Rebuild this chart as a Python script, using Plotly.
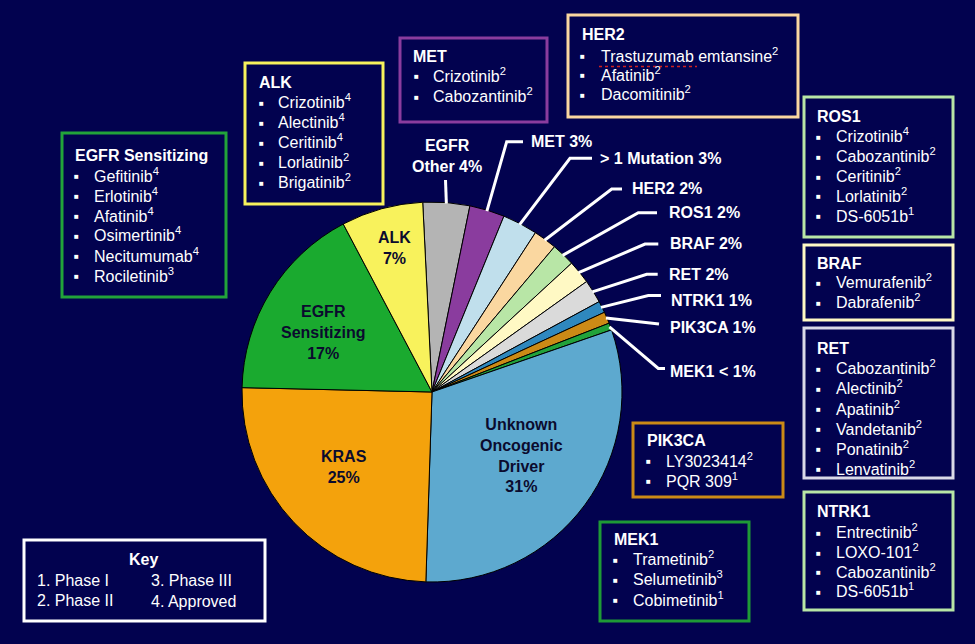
import math
import plotly.graph_objects as go

W, H = 975, 644
BG = "#02024F"
FONT = "Liberation Sans, Arial, sans-serif"

# ---------------- data ----------------
slice_names = ["EGFR Other", "MET", "> 1 Mutation", "HER2", "ROS1", "BRAF", "RET",
               "NTRK1", "PIK3CA", "MEK1", "Unknown Oncogenic Driver", "KRAS",
               "EGFR Sensitizing", "ALK"]
slice_values = [4, 3, 3, 2, 2, 2, 2, 1, 1, 0.6, 31, 25, 17, 7]
slice_colors = ["#B4B4B4", "#8A3C9E", "#C0DFEC", "#FAD7A0", "#B8E6A6", "#FFF9C4",
                "#DADADA", "#2F88BE", "#CC8A16", "#22A23A", "#5DA9CF", "#F4A20C",
                "#1AAA2F", "#F8F25C"]

outer_labels = ["EGFR<br>Other 4%", "MET 3%", "> 1 Mutation 3%", "HER2 2%", "ROS1 2%",
                "BRAF 2%", "RET 2%", "NTRK1 1%", "PIK3CA 1%", "MEK1 < 1%"]
inner_labels = ["Unknown<br>Oncogenic<br>Driver<br>31%", "KRAS<br>25%",
                "EGFR<br>Sensitizing<br>17%", "ALK<br>7%"]

box_titles = ["EGFR Sensitizing", "ALK", "MET", "HER2", "ROS1", "BRAF", "RET",
              "NTRK1", "PIK3CA", "MEK1"]
egfr_drugs = ["Gefitinib", "Erlotinib", "Afatinib", "Osimertinib", "Necitumumab", "Rociletinib"]
egfr_phase = [4, 4, 4, 4, 4, 3]
alk_drugs = ["Crizotinib", "Alectinib", "Ceritinib", "Lorlatinib", "Brigatinib"]
alk_phase = [4, 4, 4, 2, 2]
met_drugs = ["Crizotinib", "Cabozantinib"]
met_phase = [2, 2]
her2_drugs = ["Trastuzumab emtansine", "Afatinib", "Dacomitinib"]
her2_phase = [2, 2, 2]
ros1_drugs = ["Crizotinib", "Cabozantinib", "Ceritinib", "Lorlatinib", "DS-6051b"]
ros1_phase = [4, 2, 2, 2, 1]
braf_drugs = ["Vemurafenib", "Dabrafenib"]
braf_phase = [2, 2]
ret_drugs = ["Cabozantinib", "Alectinib", "Apatinib", "Vandetanib", "Ponatinib", "Lenvatinib"]
ret_phase = [2, 2, 2, 2, 2, 2]
ntrk1_drugs = ["Entrectinib", "LOXO-101", "Cabozantinib", "DS-6051b"]
ntrk1_phase = [2, 2, 2, 1]
pik3ca_drugs = ["LY3023414", "PQR 309"]
pik3ca_phase = [2, 1]
mek1_drugs = ["Trametinib", "Selumetinib", "Cobimetinib"]
mek1_phase = [2, 3, 1]

key_title = "Key"
key_items = ["1. Phase I", "2. Phase II", "3. Phase III", "4. Approved"]

# ---------------- layout helpers (pixels -> paper) ----------------
def px(x):
    return x / W

def py(y):
    return 1 - y / H

CX, CY, R = 432, 392, 190
ROT = -2.8

fig = go.Figure()
fig.add_trace(go.Pie(
    values=slice_values, labels=slice_names, sort=False, direction="clockwise",
    rotation=ROT, marker=dict(colors=slice_colors, line=dict(color="#000000", width=1)),
    textinfo="none", hoverinfo="skip", showlegend=False,
    domain=dict(x=[px(CX - R), px(CX + R)], y=[py(CY + R), py(CY - R)]),
))

annotations = []
shapes = []

def text(x, y, s, size=16, color="white", bold=False, xanchor="left", align="left"):
    annotations.append(dict(
        x=px(x), y=py(y), xref="paper", yref="paper", text=(f"<b>{s}</b>" if bold else s),
        showarrow=False, xanchor=xanchor, yanchor="middle", align=align,
        font=dict(family=FONT, size=size, color=color),
    ))

# ---------------- outer labels and leader lines ----------------
total = sum(slice_values)
cum = [sum(slice_values[:i]) for i in range(len(slice_values))]

def mid_point(i, r=R - 1):
    a = math.radians(90 - ROT - 360 * (cum[i] + slice_values[i] / 2) / total)
    return CX + r * math.cos(a), CY - r * math.sin(a)

# (label x, label y, anchor, path points after pie edge)
outer_layout = [
    (447, 156, "center", [(445.5, 180)]),
    (529, 141.7, "left", [(506.7, 141.7), (523, 141.7)]),
    (598, 158.3, "left", [(570, 158.3), (592, 158.3)]),
    (630, 189, "left", [(611.7, 189), (622, 189)]),
    (666.5, 212.7, "left", [(638.3, 212.7), (657, 212.7)]),
    (667.5, 244, "left", [(645, 244), (658.3, 244)]),
    (666.5, 274.3, "left", [(646.7, 274.3), (657.7, 274.3)]),
    (669, 300, "left", [(648.3, 295.5), (661, 295.5)]),
    (668, 327.3, "left", [(659, 324)]),
    (667.5, 371.3, "left", [(658.3, 368.5), (665, 368.5)]),
]
for i, (lx, ly, anc, pts) in enumerate(outer_layout):
    sx, sy = mid_point(i)
    path = f"M {px(sx)},{py(sy)}" + "".join(f" L {px(x)},{py(y)}" for x, y in pts)
    shapes.append(dict(type="path", path=path, xref="paper", yref="paper",
                       line=dict(color="white", width=3)))
    text(lx, ly, outer_labels[i], bold=True, xanchor=anc, align="center" if anc == "center" else "left")

# ---------------- inner labels ----------------
inner_pos = [(521.7, 455.5), (344.3, 466.7), (323.3, 332), (394, 248.2)]
for s, (x, y) in zip(inner_labels, inner_pos):
    text(x, y, s, color="#0B0B2E", bold=True, xanchor="center", align="center")

# ---------------- drug boxes ----------------
box_drugs = [egfr_drugs, alk_drugs, met_drugs, her2_drugs, ros1_drugs, braf_drugs,
             ret_drugs, ntrk1_drugs, pik3ca_drugs, mek1_drugs]
box_phase = [egfr_phase, alk_phase, met_phase, her2_phase, ros1_phase, braf_phase,
             ret_phase, ntrk1_phase, pik3ca_phase, mek1_phase]
# rect (x0,y0,x1,y1), border colour, title (x,y), bullet x, text x, first item y, item step
box_layout = [
    ((62, 133, 226, 297), "#22A33A", (72.5, 155), 76, 92, 176.5, 20),
    ((245, 63, 383, 204), "#F8F25C", (256.5, 82.7), 261, 276, 103.3, 20),
    ((400, 38, 547, 122), "#8A3C9E", (411, 56.5), 416, 431, 76.7, 20.6),
    ((568, 15, 798, 117), "#FAD7A0", (580, 34), 582.5, 598.5, 56.7, 19.2),
    ((804, 97, 953, 237), "#B8E6A6", (815, 116.7), 818.5, 833.5, 137.5, 19.8),
    ((804, 245, 953, 320), "#FFF9C4", (815, 263.3), 818.5, 833.5, 283.3, 20),
    ((804, 328, 953, 478), "#D9D9E8", (815, 348.3), 818.5, 833.5, 369.3, 20.1),
    ((804, 492, 953, 610), "#B8E6A6", (815, 511.7), 818.5, 833.5, 533.3, 19.7),
    ((633, 423, 783, 497), "#CC8A16", (645, 440.7), 648.5, 663.5, 461.7, 20),
    ((600, 522, 749, 621), "#1E9A36", (611.5, 539.3), 615, 631, 560, 20.3),
]
for title, drugs, phases, (rect, col, (tx, ty), bx, dx, y0, dy) in zip(
        box_titles, box_drugs, box_phase, box_layout):
    x0, y0r, x1, y1 = rect
    shapes.append(dict(type="rect", xref="paper", yref="paper",
                       x0=px(x0), x1=px(x1), y0=py(y1), y1=py(y0r),
                       line=dict(color=col, width=3), fillcolor="rgba(0,0,0,0)"))
    text(tx, ty, title, bold=True)
    for k, (d, p) in enumerate(zip(drugs, phases)):
        yy = y0 + k * dy
        text(bx, yy, "■", size=8, xanchor="center")
        text(dx, yy - 2, f"{d}<sup>{p}</sup>")

# spell-check squiggle under "Trastuzumab"
shapes.append(dict(type="line", xref="paper", yref="paper", x0=px(599), x1=px(697),
                   y0=py(66.5), y1=py(66.5), line=dict(color="#D02020", width=1.5, dash="dot")))

# ---------------- key box ----------------
shapes.append(dict(type="rect", xref="paper", yref="paper", x0=px(24), x1=px(265),
                   y0=py(621), y1=py(540), line=dict(color="white", width=3),
                   fillcolor="rgba(0,0,0,0)"))
text(143.5, 559.3, key_title, bold=True, xanchor="center")
key_pos = [(35, 580), (35, 600), (149, 580), (149, 601)]
for s, (x, y) in zip(key_items, key_pos):
    text(x, y, s)

fig.update_layout(
    width=W, height=H, margin=dict(l=0, r=0, t=0, b=0),
    paper_bgcolor=BG, plot_bgcolor=BG,
    annotations=annotations, shapes=shapes, showlegend=False,
)
fig.write_html(
    "out.html",
    config={"displayModeBar": False},
    post_script="document.body.style.margin='0';document.body.style.background='" + BG + "';",
)
